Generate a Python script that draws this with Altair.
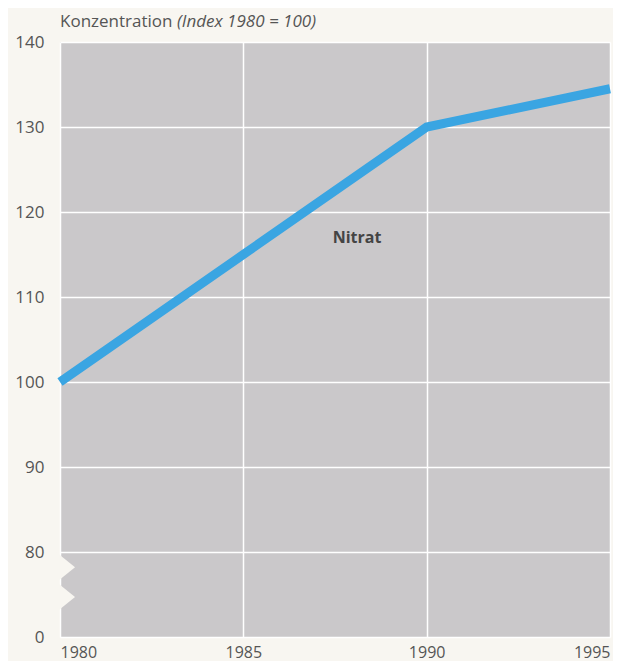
import altair as alt
import pandas as pd

years = [1980, 1985, 1990, 1995]
nitrat = [100, 115, 130, 134.5]
y_ticks = [70, 80, 90, 100, 110, 120, 130, 140]
x_ticks = [1980, 1985, 1990, 1995]
label_x = [1988.1]
label_y = [117]
label_text = ["Nitrat"]
break_y = [78.2, 74.7]

BG = "#f8f6f1"
FONT = "Open Sans"

df = pd.DataFrame({"Jahr": years, "Wert": nitrat})
lab = pd.DataFrame({"Jahr": label_x, "Wert": label_y, "t": label_text})
brk = pd.DataFrame({"Jahr": [1980] * len(break_y), "Wert": break_y})

xs = alt.Scale(domain=[1980, 1995], nice=False, zero=False)
ys = alt.Scale(domain=[70, 140], nice=False, zero=False)

x_axis = alt.Axis(values=x_ticks, title=None, labelFlush=True, ticks=False, domain=False,
                  grid=True, gridColor="white", gridWidth=1.5, format="d",
                  labelPadding=7, labelFontSize=16, labelColor="#555", labelFont=FONT)
y_axis = alt.Axis(values=y_ticks, title=None, ticks=False, domain=False, grid=True,
                  gridColor="white", gridWidth=1.5, labelPadding=16, labelFontSize=17,
                  labelColor="#555", labelFont=FONT,
                  labelExpr="datum.value == 70 ? '0' : datum.label")

line = alt.Chart(df).mark_line(color="#3aa5e2", strokeWidth=9, strokeCap="butt",
                               strokeJoin="miter", clip=False).encode(
    x=alt.X("Jahr:Q", scale=xs, axis=x_axis),
    y=alt.Y("Wert:Q", scale=ys, axis=y_axis),
)

brk_mark = alt.Chart(brk).mark_point(shape="M-0.3,-1L0.94,0L-0.3,1Z", filled=True,
                                     opacity=1, color=BG, size=1024, clip=False).encode(
    x=alt.X("Jahr:Q", scale=xs), y=alt.Y("Wert:Q", scale=ys))

text = alt.Chart(lab).mark_text(fontWeight="bold", fontSize=16, color="#444",
                                font=FONT).encode(
    x=alt.X("Jahr:Q", scale=xs), y=alt.Y("Wert:Q", scale=ys), text="t:N")

title1 = alt.Chart(pd.DataFrame({"t": ["Konzentration"]})).mark_text(
    align="left", baseline="alphabetic", fontSize=17, color="#555",
    font=FONT).encode(
    x=alt.value(0), y=alt.value(-15), text="t:N")
title2 = alt.Chart(pd.DataFrame({"t": ["(Index 1980 = 100)"]})).mark_text(
    align="left", baseline="alphabetic", fontSize=17, color="#555", font=FONT,
    fontStyle="italic").encode(x=alt.value(117), y=alt.value(-15), text="t:N")

chart = alt.layer(line, brk_mark, text, title1, title2).properties(
    width=550, height=595, autosize="none",
    padding={"left": 52, "top": 34, "right": 3, "bottom": 24},
    background=BG,
).configure_view(fill="#cac8ca", stroke=None)

chart.save("out.html", embed_options={"renderer": "svg", "actions": False})
